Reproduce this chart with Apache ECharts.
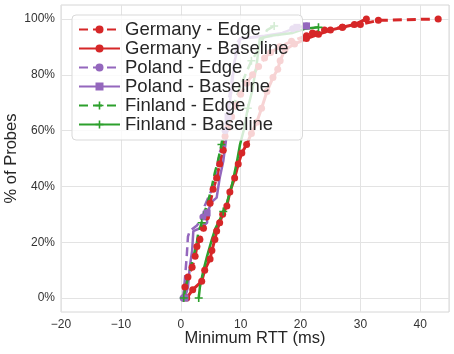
<!DOCTYPE html>
<html>
<head>
<meta charset="utf-8">
<script src="https://cdn.jsdelivr.net/npm/echarts@6/dist/echarts.min.js"></script>
<style>
  html, body { margin: 0; padding: 0; background: #fff; }
  #chart { width: 454px; height: 354px; }
</style>
</head>
<body>
<div id="chart"></div>
<script>
// CDF points: minimum RTT (ms) vs share of probes (%)
const deEdgeRtt = [0.5, 0.7, 1.2, 1.9, 2.4, 2.7, 3.2, 3.8, 4.3, 4.9, 5.4, 6.0, 6.5, 7.1, 7.4, 7.9, 8.5, 9.2, 10.0, 11.0, 12.0, 13.0, 14.0, 15.0, 16.5, 18.5, 21.0, 22.0, 24.0, 27.0, 30.0, 33.0, 43.0]
const deEdgePct = [0, 4, 7.5, 11, 15, 18.5, 21, 25, 29, 34, 39, 43, 48, 53, 58, 61, 65, 69, 73, 77, 80, 83, 86, 88, 90, 92, 94, 95, 96, 97, 98, 99.5, 100]
const deBaseRtt = [1.0, 2.0, 3.5, 4.0, 4.9, 5.2, 5.7, 6.0, 6.5, 7.0, 7.7, 8.2, 9.0, 9.6, 10.2, 11.0, 11.8, 12.7, 13.5, 14.4, 15.4, 16.2, 16.6, 17.4, 19.0, 21.0, 23.0, 25.0, 27.0, 29.0, 31.0]
const deBasePct = [0, 3, 6, 10, 14, 17, 21, 24, 27, 30, 33, 38, 43, 48, 52, 55, 59, 63, 68, 74, 79, 82, 85, 89, 91, 93, 94.5, 96, 97, 98, 100]
const plEdgeRtt = [0.4, 0.7, 1.0, 1.2, 1.5, 2.7, 3.7, 4.0, 5.4, 6.0, 6.5, 7.1, 7.4, 7.7, 8.7, 9.4, 9.9, 16.0, 18.7, 21.0]
const plEdgePct = [0, 7, 15, 22, 24, 26, 29, 33, 40, 46, 52, 55.5, 60, 66, 81, 91.5, 93, 94, 96.5, 97.5]
const plBaseRtt = [0.7, 1.2, 1.5, 1.9, 2.1, 3.2, 4.4, 4.4, 5.2, 6.0, 6.5, 7.1, 7.4, 7.7, 7.9, 8.5, 9.0, 9.6, 10.0, 14.0, 17.0, 19.4, 21.0]
const plBasePct = [0, 4, 11, 17, 24, 25, 27, 30.5, 34.5, 36, 43, 49, 54, 59, 65, 75, 85, 90, 93, 94, 95, 97, 97.5]
const fiEdgeRtt = [0.5, 0.7, 1.2, 1.9, 2.7, 2.9, 3.5, 4.0, 4.5, 5.2, 5.7, 6.2, 6.8, 7.4, 8.2, 9.0, 9.8, 10.8, 11.8, 12.7, 13.5, 14.4, 15.6]
const fiEdgePct = [0, 3, 7, 13, 20, 23, 27, 31, 34, 40, 45, 49, 55, 60, 65, 70, 75, 80, 85, 88, 92, 96, 97.5]
const fiBaseRtt = [3.0, 3.2, 3.8, 4.4, 5.2, 5.8, 6.5, 7.1, 7.7, 8.5, 9.0, 9.4, 9.9, 10.5, 11.2, 11.9, 12.7, 13.2, 15.0, 18.7, 20.7, 23.0]
const fiBasePct = [0, 4, 10, 15, 21, 25, 28, 31, 34, 40, 45, 49, 55, 60, 68, 74, 84, 93, 94, 95, 96.5, 97]
const yTicks = [0, 20, 40, 60, 80, 100]

const red = '#d62728'
const purple = '#9467bd'
const green = '#2ca02c'
const plus = 'path://M4,0h2v4h4v2h-4v4h-2v-4h-4v-2h4z'
const font = 'Liberation Sans'

const cdf = (name, rtt, pct, color, dashed, symbol, size, every, width) => ({
  name,
  type: 'line',
  data: rtt.map((x, i) => [x, pct[i]]),
  color,
  symbol,
  symbolSize: (v, p) => (p.dataIndex % every === 0 || p.dataIndex === rtt.length - 1) ? size : 0,
  showAllSymbol: true,
  animation: false,
  lineStyle: { width, type: dashed ? [9, 5] : 'solid' },
  itemStyle: { color }
})

const chart = echarts.init(document.getElementById('chart'))
chart.setOption({
  backgroundColor: '#fff',
  textStyle: { fontFamily: font },
  grid: {
    left: 61, right: 5, top: 5, bottom: 42,
    outerBoundsMode: 'none',
    show: true, borderColor: '#d6d6d6', borderWidth: 1
  },
  legend: {
    orient: 'vertical',
    left: 72, top: 15,
    padding: [5, 14, 6, 6],
    itemWidth: 41, itemHeight: 10, itemGap: 0,
    backgroundColor: 'rgba(255,255,255,0.8)',
    borderColor: '#d9d9d9', borderWidth: 1, borderRadius: 4,
    textStyle: { fontSize: 18.5, color: '#262626', fontFamily: font, lineHeight: 18.7 }
  },
  xAxis: {
    type: 'value',
    min: -20, max: 44.8, interval: 10,
    name: 'Minimum RTT (ms)', nameLocation: 'middle', nameGap: 18,
    nameMoveOverlap: false,
    nameTextStyle: { fontSize: 16.5, color: '#262626' },
    axisLine: { show: false }, axisTick: { show: false },
    axisLabel: {
      fontSize: 12, color: '#333', margin: 7, showMaxLabel: false,
      formatter: v => v < 0 ? '\u2212' + (-v) : '' + v
    },
    splitLine: { lineStyle: { color: '#e3e3e3' } }
  },
  yAxis: {
    type: 'value',
    min: -5, max: 105,
    name: '% of Probes', nameLocation: 'middle', nameGap: 41,
    nameMoveOverlap: false,
    nameTextStyle: { fontSize: 16.5, color: '#262626' },
    axisLine: { show: false },
    axisTick: { show: false, customValues: yTicks },
    axisLabel: { fontSize: 12, color: '#333', margin: 6, customValues: yTicks, formatter: '{value}%' },
    splitLine: { lineStyle: { color: '#e3e3e3' } }
  },
  series: [
    cdf('Germany - Edge', deEdgeRtt, deEdgePct, red, true, 'circle', 7, 1, 3),
    cdf('Germany - Baseline', deBaseRtt, deBasePct, red, false, 'circle', 7, 1, 3),
    cdf('Poland - Edge', plEdgeRtt, plEdgePct, purple, true, 'circle', 7, 6, 2.5),
    cdf('Poland - Baseline', plBaseRtt, plBasePct, purple, false, 'rect', 7, 7, 2.5),
    cdf('Finland - Edge', fiEdgeRtt, fiEdgePct, green, true, plus, 8, 6, 2.5),
    cdf('Finland - Baseline', fiBaseRtt, fiBasePct, green, false, plus, 8, 7, 2.5)
  ]
})
</script>
</body>
</html>
